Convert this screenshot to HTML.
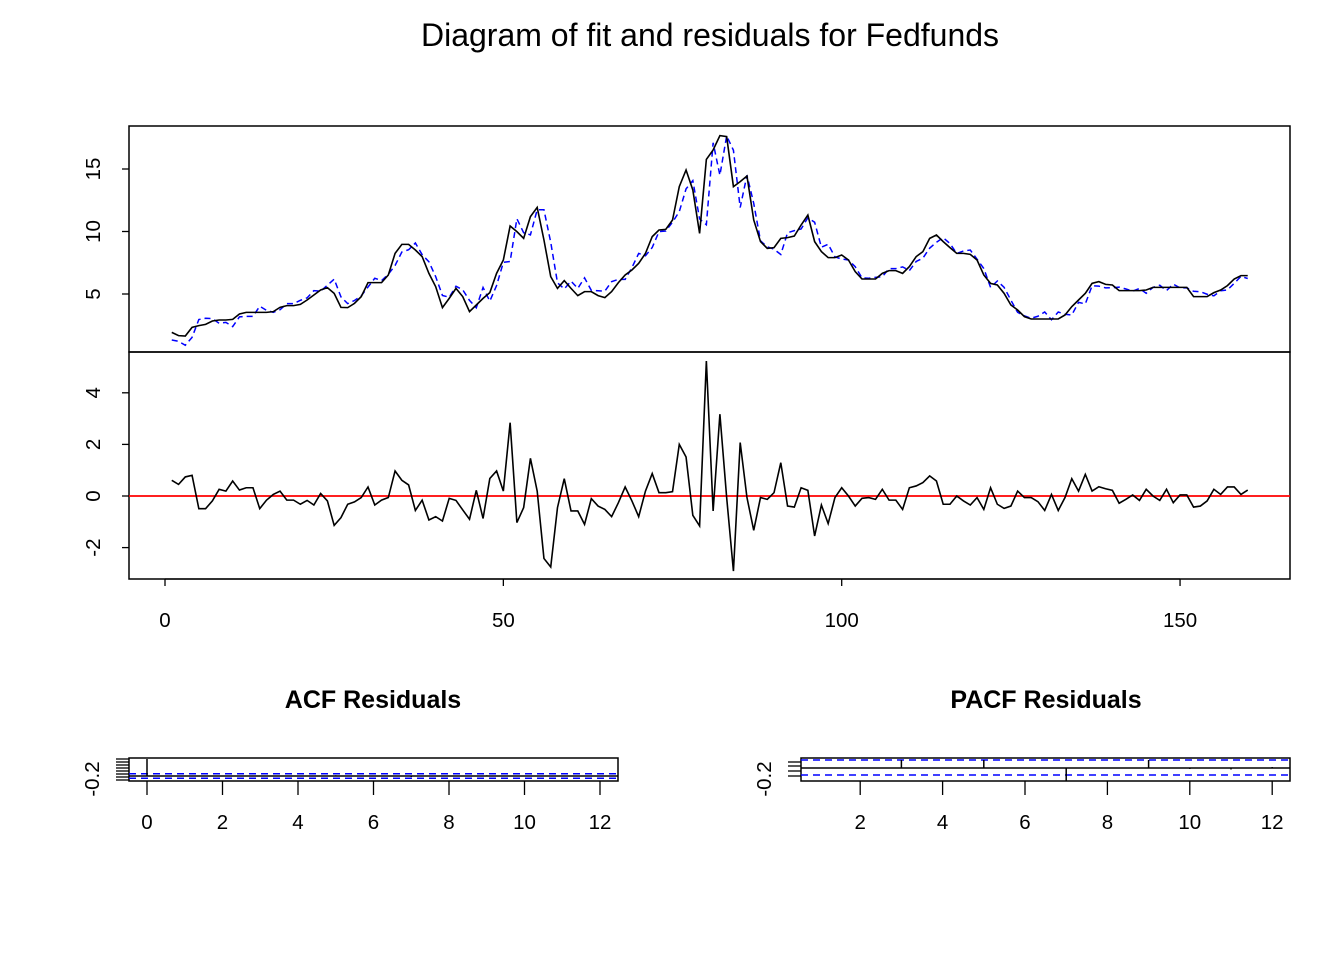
<!DOCTYPE html>
<html><head><meta charset="utf-8"><style>
body{margin:0;background:#fff}
svg{display:block;font-family:"Liberation Sans",Arial,sans-serif}
</style></head><body>
<svg id="c" width="1344" height="960" viewBox="0 0 1344 960">
<text x="710" y="46" font-size="32" text-anchor="middle">Diagram of fit and residuals for Fedfunds</text>
</svg>
<script>
const actual=[1.93,1.67,1.64,2.33,2.47,2.57,2.84,2.92,2.92,2.97,3.40,3.53,3.53,3.53,3.53,3.59,3.93,4.07,4.07,4.17,4.52,4.92,5.32,5.51,5.05,3.93,3.91,4.25,4.79,5.91,5.91,5.91,6.52,8.25,8.97,8.97,8.52,7.99,6.65,5.59,3.91,4.65,5.45,4.79,3.59,4.12,4.65,5.11,6.65,7.72,10.44,9.99,9.45,11.19,11.93,9.32,6.39,5.45,6.07,5.45,4.87,5.19,5.19,4.87,4.71,5.19,5.91,6.52,6.92,7.45,8.25,9.59,10.12,10.17,10.92,13.59,14.92,13.32,9.85,
15.77,16.52,17.67,17.59,13.59,13.99,14.44,10.92,9.19,8.65,8.71,9.45,9.51,9.64,10.52,11.32,9.19,8.39,7.91,7.91,8.12,7.72,6.79,6.20,6.20,6.20,6.65,6.87,6.87,6.65,7.19,7.99,8.39,9.45,9.72,9.19,8.71,8.25,8.25,8.17,7.72,6.52,5.85,5.72,5.05,4.12,3.72,3.19,3.00,3.00,3.00,3.00,3.00,3.32,3.99,4.52,5.05,5.85,5.99,5.77,5.72,5.27,5.27,5.27,5.27,5.32,5.53,5.53,5.53,5.53,5.53,5.53,4.79,4.79,4.79,5.11,5.32,5.67,6.20,6.47,6.47];
const resid=[0.61,0.45,0.74,0.80,-0.49,-0.49,-0.19,0.26,0.19,0.58,0.23,0.32,0.32,-0.49,-0.16,0.06,0.19,-0.16,-0.16,-0.32,-0.17,-0.35,0.10,-0.19,-1.14,-0.84,-0.32,-0.23,-0.06,0.35,-0.35,-0.16,-0.06,0.97,0.61,0.43,-0.56,-0.16,-0.93,-0.80,-0.97,-0.09,-0.17,-0.54,-0.90,0.22,-0.87,0.68,0.97,0.19,2.84,-1.03,-0.45,1.46,0.19,-2.42,-2.75,-0.45,0.67,-0.58,-0.58,-1.10,-0.10,-0.39,-0.52,-0.80,-0.26,0.35,-0.19,-0.80,0.19,0.87,0.13,0.13,0.17,2.00,1.51,-0.75,-1.16,
5.23,-0.58,3.17,-0.06,-2.91,2.07,-0.06,-1.33,-0.06,-0.13,0.13,1.29,-0.39,-0.43,0.32,0.22,-1.55,-0.35,-1.07,-0.06,0.32,0,-0.39,-0.09,-0.06,-0.13,0.26,-0.16,-0.16,-0.52,0.32,0.39,0.52,0.78,0.58,-0.32,-0.32,0,-0.19,-0.35,-0.06,-0.52,0.32,-0.32,-0.48,-0.39,0.19,-0.06,-0.06,-0.22,-0.56,0.06,-0.56,-0.06,0.67,0.19,0.84,0.19,0.36,0.28,0.22,-0.28,-0.13,0.04,-0.17,0.26,0,-0.17,0.26,-0.26,0.04,0.04,-0.43,-0.39,-0.19,0.26,0.06,0.35,0.35,0.06,0.23];
const xTicks=[0,50,100,150];
const topTicks=[5,10,15];
const botTicks=[-2,0,2,4];
const acfLags=[0,1,2,3,4,5,6,7,8,9,10,11,12];
const acfVals=[1,0.0,-0.01,0.03,-0.01,0.04,-0.01,-0.06,0.0,0.04,-0.02,-0.03,0.01];
const pacfLags=[1,2,3,4,5,6,7,8,9,10,11,12];
const pacfVals=[0.01,-0.01,0.16,-0.01,0.16,-0.01,-0.26,-0.01,0.16,-0.02,-0.03,0.02];
const acfXTicks=[0,2,4,6,8,10,12];
const pacfXTicks=[2,4,6,8,10,12];

const svg=document.getElementById('c');
const NS='http://www.w3.org/2000/svg';
function mk(tag,at,parent){const e=document.createElementNS(NS,tag);for(const k in at)e.setAttribute(k,at[k]);(parent||svg).appendChild(e);return e;}
const X=t=>165+6.767*t;
const YT=v=>294-(v-5)*12.5;
const YB=v=>496-v*25.8;
const FS=20.5;

let r=mk('rect',{x:129,y:126,width:1161,height:226,fill:'none',stroke:'#000','stroke-width':1.5});


r=mk('rect',{x:129,y:352,width:1161,height:227,fill:'none',stroke:'#000','stroke-width':1.5});



topTicks.forEach(v=>{const y=YT(v);mk('line',{x1:122,x2:129,y1:y,y2:y,stroke:'#000','stroke-width':1.3});
const t=mk('text',{x:100,y:y,'font-size':FS,'text-anchor':'middle',transform:`rotate(-90 100 ${y})`});t.textContent=v;

});
botTicks.forEach(v=>{const y=YB(v);mk('line',{x1:122,x2:129,y1:y,y2:y,stroke:'#000','stroke-width':1.3});
const t=mk('text',{x:100,y:y,'font-size':FS,'text-anchor':'middle',transform:`rotate(-90 100 ${y})`});t.textContent=v;

});
mk('line',{x1:X(0),x2:X(150),y1:579,y2:579,stroke:'#000','stroke-width':1.3});
xTicks.forEach(v=>{const x=X(v);mk('line',{x1:x,x2:x,y1:579,y2:586,stroke:'#000','stroke-width':1.3});
const t=mk('text',{x:x,y:627,'font-size':FS,'text-anchor':'middle'});t.textContent=v;

});

const fitted=actual.map((a,i)=>a-resid[i]);
let p=mk('polyline',{points:fitted.map((v,i)=>X(i+1)+','+YT(v)).join(' '),fill:'none',stroke:'#0000ff','stroke-width':1.5,'stroke-dasharray':'6,4'});


p=mk('polyline',{points:actual.map((v,i)=>X(i+1)+','+YT(v)).join(' '),fill:'none',stroke:'#000','stroke-width':1.6});


p=mk('line',{x1:129,x2:1290,y1:YB(0),y2:YB(0),stroke:'#ff0000','stroke-width':1.8});


p=mk('polyline',{points:resid.map((v,i)=>X(i+1)+','+YB(v)).join(' '),fill:'none',stroke:'#000','stroke-width':1.6});



const AX=l=>147+37.75*l, AY=v=>776-v*17;
let t=mk('text',{x:373,y:708,'font-size':25,'font-weight':'bold','text-anchor':'middle'});t.textContent='ACF Residuals';


r=mk('rect',{x:129,y:758,width:489,height:23,fill:'none',stroke:'#000','stroke-width':1.5});


[759,762,765,768,771,774,777,780].forEach(y=>mk('line',{x1:116,x2:129,y1:y,y2:y,stroke:'#000','stroke-width':1.3}));
mk('line',{x1:129,x2:618,y1:AY(0),y2:AY(0),stroke:'#000','stroke-width':1.5});
[0.13,-0.13].forEach(v=>mk('line',{x1:129,x2:618,y1:AY(v),y2:AY(v),stroke:'#0000ff','stroke-width':1.5,'stroke-dasharray':'7,5'}));
acfLags.forEach((l,i)=>{const b=mk('line',{x1:AX(l),x2:AX(l),y1:AY(0),y2:AY(acfVals[i]),stroke:'#000','stroke-width':1.5});

});
acfXTicks.forEach(v=>{const x=AX(v);mk('line',{x1:x,x2:x,y1:781,y2:795,stroke:'#000','stroke-width':1.3});
const e=mk('text',{x:x,y:829,'font-size':FS,'text-anchor':'middle'});e.textContent=v;

});
t=mk('text',{x:99,y:779,'font-size':FS,'text-anchor':'middle',transform:'rotate(-90 99 779)'});t.textContent='-0.2';



const PX=l=>819+41.2*(l-1), PY=v=>768-v*50;
t=mk('text',{x:1046,y:708,'font-size':25,'font-weight':'bold','text-anchor':'middle'});t.textContent='PACF Residuals';


r=mk('rect',{x:801,y:758,width:489,height:23,fill:'none',stroke:'#000','stroke-width':1.5});


[762,766,771,776].forEach(y=>mk('line',{x1:788,x2:801,y1:y,y2:y,stroke:'#000','stroke-width':1.3}));
mk('line',{x1:801,x2:1290,y1:PY(0),y2:PY(0),stroke:'#000','stroke-width':1.5});
[0.16,-0.14].forEach(v=>mk('line',{x1:801,x2:1290,y1:PY(v),y2:PY(v),stroke:'#0000ff','stroke-width':1.5,'stroke-dasharray':'7,5'}));
pacfLags.forEach((l,i)=>{const b=mk('line',{x1:PX(l),x2:PX(l),y1:PY(0),y2:PY(pacfVals[i]),stroke:'#000','stroke-width':1.5});

});
pacfXTicks.forEach(v=>{const x=PX(v);mk('line',{x1:x,x2:x,y1:781,y2:795,stroke:'#000','stroke-width':1.3});
const e=mk('text',{x:x,y:829,'font-size':FS,'text-anchor':'middle'});e.textContent=v;

});
t=mk('text',{x:771,y:779,'font-size':FS,'text-anchor':'middle',transform:'rotate(-90 771 779)'});t.textContent='-0.2';


</script>
</body></html>
